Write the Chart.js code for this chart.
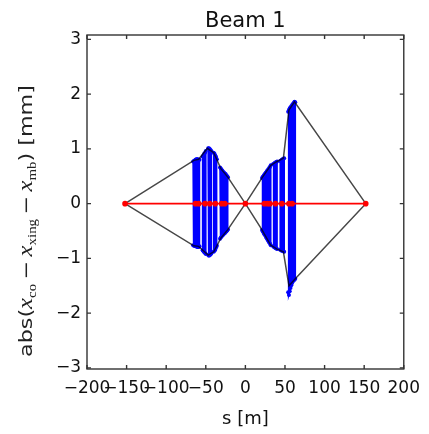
<!DOCTYPE html>
<html>
<head>
<meta charset="utf-8">
<script src="https://cdn.jsdelivr.net/npm/chart.js@4.4.0/dist/chart.umd.min.js"></script>
<style>html,body{margin:0;padding:0;background:#fff;}</style>
</head>
<body>
<canvas id="chart" width="429" height="434"></canvas>
<script>
let titleText = "Beam 1";
let xLabel = "s [m]";
let xTicks = [-200, -150, -100, -50, 0, 50, 100, 150, 200];
let yTicks = [-3, -2, -1, 0, 1, 2, 3];

// blue elements: position s [m], upper and lower value [mm]; null = gap between magnets
let blueS = [-66, -65, -64, -63, -62, -61, -60, -59, -58, -56,
    -54, -53, -52, -51, -50, -48.5,
    -47, -46, -45, -44, -43, -41.5,
    -40, -39, -38, -37, -36, -34,
    -32, -31, -30, -29, -28, -27, -26, -25, -24, -23, -22, 0,
    21, 22, 23, 24, 25, 26, 27, 28, 29, 30, 31, 32, 33.5,
    35, 36, 37, 38, 39, 40, 42,
    44, 45, 46, 47, 48, 49, 51.5,
    54, 55, 56, 57, 58, 59, 60, 61, 62, 63];
let blueTop = [0.77, 0.78, 0.79, 0.80, 0.81, 0.81, 0.81, 0.80, 0.80, null,
    0.86, 0.88, 0.91, 0.93, 0.96, null,
    1.01, 1.01, 1.00, 0.98, 0.96, null,
    0.93, 0.91, 0.88, 0.85, 0.81, null,
    0.66, 0.64, 0.62, 0.60, 0.58, 0.57, 0.55, 0.54, 0.52, 0.50, 0.48, null,
    0.47, 0.49, 0.51, 0.53, 0.55, 0.57, 0.59, 0.61, 0.63, 0.65, 0.67, 0.70, null,
    0.72, 0.73, 0.74, 0.75, 0.76, 0.77, null,
    0.78, 0.79, 0.80, 0.81, 0.82, 0.83, null,
    1.68, 1.71, 1.74, 1.76, 1.78, 1.80, 1.82, 1.84, 1.86, 1.85];
let blueBottom = [-0.76, -0.77, -0.77, -0.78, -0.78, -0.79, -0.79, -0.79, -0.78, null,
    -0.85, -0.87, -0.89, -0.90, -0.92, null,
    -0.94, -0.95, -0.94, -0.93, -0.91, null,
    -0.88, -0.86, -0.84, -0.80, -0.77, null,
    -0.64, -0.62, -0.60, -0.58, -0.57, -0.55, -0.54, -0.52, -0.51, -0.49, -0.47, null,
    -0.48, -0.51, -0.53, -0.56, -0.58, -0.61, -0.63, -0.66, -0.68, -0.71, -0.73, -0.76, null,
    -0.78, -0.79, -0.80, -0.81, -0.82, -0.83, null,
    -0.84, -0.85, -0.86, -0.86, -0.87, -0.88, null,
    -1.62, -1.67, -1.60, -1.54, -1.49, -1.45, -1.42, -1.40, -1.39, -1.37];

// black outline through the element corners
let outlineS = [-152, -65, -59, -48, -40, -31, -22, 0,
    21, 32, 40, 48, 55, 63, 152,
    62, 55, 48, 40, 32, 21, 0,
    -22, -31, -40, -47, -59, -65, -152];
let outlineV = [0, 0.79, 0.81, 1.01, 0.93, 0.64, 0.48, 0,
    -0.48, -0.76, -0.83, -0.88, -1.50, -1.37, 0,
    1.86, 1.71, 0.83, 0.77, 0.70, 0.47, 0,
    -0.47, -0.63, -0.88, -0.94, -0.78, -0.77, 0];

// red reference orbit
let refS = [-152, -63, -59, -51, -45, -38, -30, -26, 0, 24, 28, 31, 38, 46, 55, 59, 152];
let refV = [0, 0, 0, 0, 0, 0, 0, 0, 0, 0, 0, 0, 0, 0, 0, 0, 0];

function zigzag(s, top, bottom) {
    let pts = [];
    let flip = false;
    for (let i = 0; i < s.length; i++) {
        if (top[i] === null) {
            pts.push({x: s[i], y: null});
            continue;
        }
        if (!flip) {
            pts.push({x: s[i], y: top[i]});
            pts.push({x: s[i], y: bottom[i]});
        } else {
            pts.push({x: s[i], y: bottom[i]});
            pts.push({x: s[i], y: top[i]});
        }
        flip = !flip;
    }
    return pts;
}

function toPoints(xs, ys) {
    return xs.map((x, i) => ({x: x, y: ys[i]}));
}

const FONT = "'DejaVu Sans', sans-serif";
const MATH = "'Liberation Serif', serif";
const minus = v => String(v).replace("-", "\u2212");

// frame, inward ticks on all four sides and the text labels
const framePlugin = {
    id: "frame",
    afterDraw(chart) {
        const ctx = chart.ctx;
        const a = chart.chartArea;
        const xs = chart.scales.x, ys = chart.scales.y;
        ctx.save();
        ctx.strokeStyle = "#333";
        ctx.lineWidth = 1.4;
        ctx.strokeRect(a.left, a.top, a.right - a.left, a.bottom - a.top);
        ctx.beginPath();
        xTicks.forEach(v => {
            const px = xs.getPixelForValue(v);
            ctx.moveTo(px, a.bottom); ctx.lineTo(px, a.bottom - 4);
            ctx.moveTo(px, a.top); ctx.lineTo(px, a.top + 4);
        });
        yTicks.forEach(v => {
            const py = ys.getPixelForValue(v);
            ctx.moveTo(a.left, py); ctx.lineTo(a.left + 4, py);
            ctx.moveTo(a.right, py); ctx.lineTo(a.right - 4, py);
        });
        ctx.stroke();

        ctx.fillStyle = "#111";
        ctx.textAlign = "center";
        ctx.textBaseline = "alphabetic";
        ctx.font = "21px " + FONT;
        ctx.fillText(titleText, (a.left + a.right) / 2, 27);
        ctx.font = "18px " + FONT;
        ctx.fillText(xLabel, (a.left + a.right) / 2, 424);

        // rotated y label with math subscripts
        const parts = [
            ["abs(", "18px " + FONT, 0],
            ["x", "italic 20px " + MATH, 0],
            ["co", "12px " + MATH, 4],
            ["\u2009\u2212\u2009", "18px " + FONT, 0],
            ["x", "italic 20px " + MATH, 0],
            ["xing", "12px " + MATH, 4],
            ["\u2009\u2212\u2009", "18px " + FONT, 0],
            ["x", "italic 20px " + MATH, 0],
            ["mb", "12px " + MATH, 4],
            [") [mm]", "18px " + FONT, 0]
        ];
        let total = 0;
        parts.forEach(p => { ctx.font = p[1]; total += ctx.measureText(p[0]).width; });
        ctx.fillStyle = "#222";
        ctx.translate(32, 221);
        ctx.rotate(-Math.PI / 2);
        ctx.scale(272 / total, 1);
        ctx.textAlign = "left";
        let cx = -total / 2;
        parts.forEach(p => {
            ctx.font = p[1];
            ctx.fillText(p[0], cx, p[2]);
            cx += ctx.measureText(p[0]).width;
        });
        ctx.restore();
    }
};

new Chart(document.getElementById("chart"), {
    type: "scatter",
    data: {
        datasets: [
            {
                label: "reference",
                data: toPoints(refS, refV),
                showLine: true,
                borderColor: "#ff0000",
                backgroundColor: "#ff0000",
                borderWidth: 1.8,
                pointRadius: 2.8,
                pointBorderWidth: 0,
                order: 0
            },
            {
                label: "outline",
                data: toPoints(outlineS, outlineV),
                showLine: true,
                borderColor: "rgba(0,0,0,0.72)",
                borderWidth: 1.5,
                pointRadius: 0,
                order: 1
            },
            {
                label: "elements",
                data: zigzag(blueS, blueTop, blueBottom),
                showLine: true,
                spanGaps: false,
                borderColor: "#0000ff",
                backgroundColor: "#0000ff",
                borderWidth: 1.6,
                pointRadius: 2,
                pointBorderWidth: 0,
                order: 2
            }
        ]
    },
    options: {
        responsive: false,
        animation: false,
        devicePixelRatio: 1,
        layout: {padding: {left: 0, right: 16, top: 35, bottom: 0}},
        plugins: {legend: {display: false}, tooltip: {enabled: false}},
        scales: {
            x: {
                type: "linear",
                min: -200,
                max: 200,
                afterBuildTicks: s => { s.ticks = xTicks.map(v => ({value: v})); },
                afterFit: s => { s.height = 65; },
                grid: {display: false, drawTicks: false},
                border: {display: false},
                ticks: {
                    autoSkip: false, maxRotation: 0, padding: 9,
                    color: "#111", font: {family: FONT, size: 17},
                    callback: v => minus(v)
                }
            },
            y: {
                type: "linear",
                min: -3.02,
                max: 3.08,
                afterBuildTicks: s => { s.ticks = yTicks.map(v => ({value: v})); },
                afterFit: s => { s.width = 87; },
                grid: {display: false, drawTicks: false},
                border: {display: false},
                ticks: {
                    autoSkip: false, padding: 6,
                    color: "#111", font: {family: FONT, size: 17},
                    callback: v => minus(v)
                }
            }
        }
    },
    plugins: [framePlugin]
});
</script>
</body>
</html>
